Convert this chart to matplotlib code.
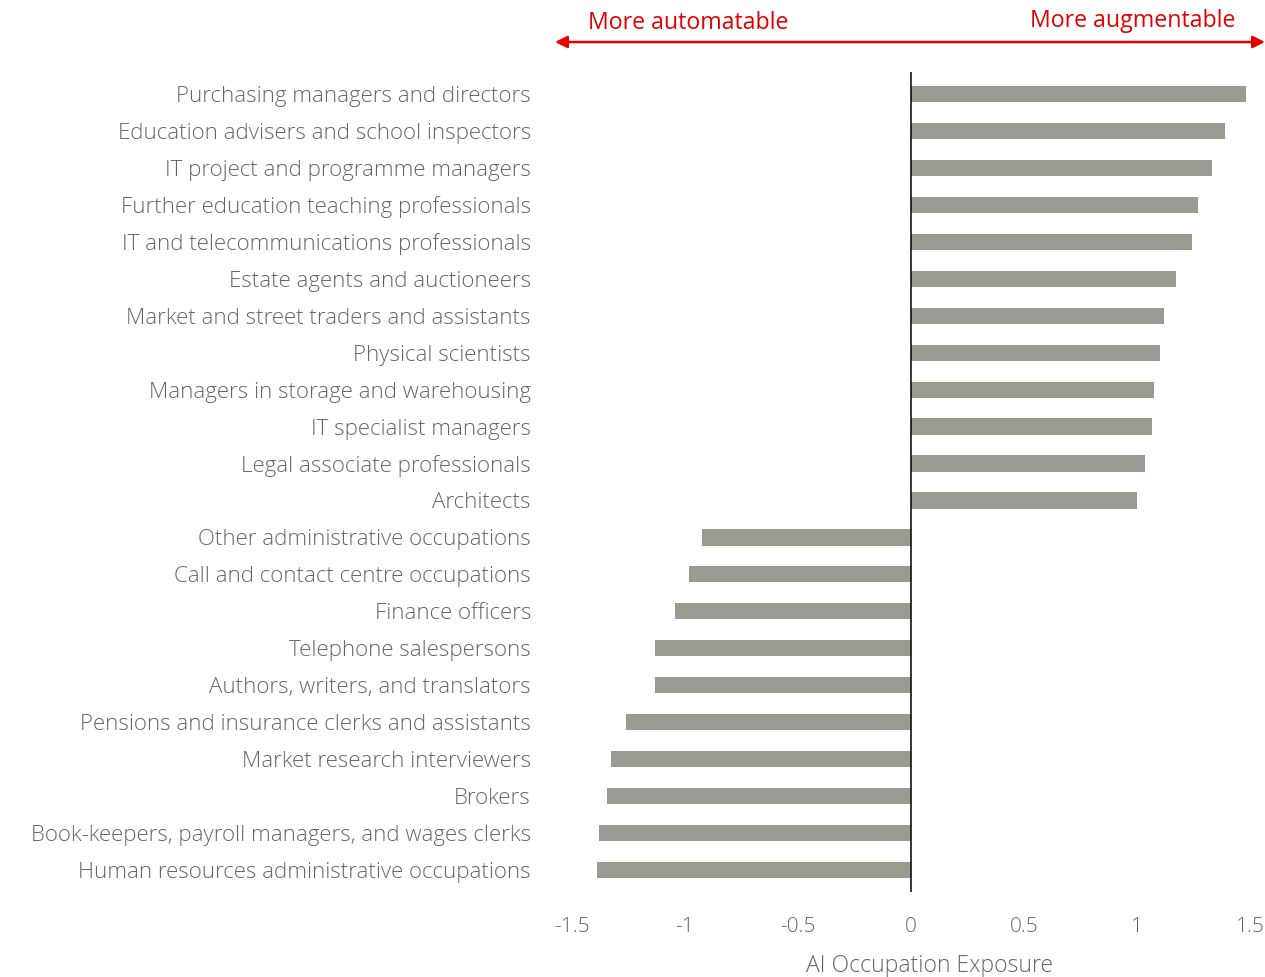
import matplotlib
matplotlib.use("Agg")
import matplotlib.pyplot as plt

occupations = [
    "Purchasing managers and directors",
    "Education advisers and school inspectors",
    "IT project and programme managers",
    "Further education teaching professionals",
    "IT and telecommunications professionals",
    "Estate agents and auctioneers",
    "Market and street traders and assistants",
    "Physical scientists",
    "Managers in storage and warehousing",
    "IT specialist managers",
    "Legal associate professionals",
    "Architects",
    "Other administrative occupations",
    "Call and contact centre occupations",
    "Finance officers",
    "Telephone salespersons",
    "Authors, writers, and translators",
    "Pensions and insurance clerks and assistants",
    "Market research interviewers",
    "Brokers",
    "Book-keepers, payroll managers, and wages clerks",
    "Human resources administrative occupations",
]
exposure = [1.48, 1.39, 1.33, 1.27, 1.24, 1.17, 1.12, 1.10, 1.075, 1.065, 1.035, 1.00,
            -0.925, -0.98, -1.045, -1.13, -1.13, -1.26, -1.325, -1.345, -1.38, -1.39]
ticks = [-1.5, -1, -0.5, 0, 0.5, 1, 1.5]
tick_labels = ["-1.5", "-1", "-0.5", "0", "0.5", "1", "1.5"]

plt.rcParams["font.family"] = ["Open Sans", "DejaVu Sans"]
text_col = "#666666"
red = "#e60000"

W, H = 1265, 977
fig = plt.figure(figsize=(W / 100, H / 100), dpi=100)
ax = fig.add_axes([549 / W, (H - 892) / H, 724 / W, 820 / H])

pos = list(range(len(occupations)))
ax.barh(pos, exposure, height=0.44, color="#9a9a90")
ax.set_xlim(-1.6, 1.6)
ax.set_ylim(len(occupations) - 0.4, -0.6)

for s in ["top", "right", "bottom", "left"]:
    ax.spines[s].set_visible(False)
ax.axvline(0, color="black", lw=1.1)

ax.set_yticks(pos)
ax.set_yticklabels(occupations, fontsize=16, color=text_col, fontweight="light")
ax.tick_params(axis="y", length=0, pad=13)

ax.set_xticks(ticks)
ax.set_xticklabels(tick_labels, fontsize=15, color=text_col, fontweight="light")
ax.tick_params(axis="x", length=0, pad=18)
ax.set_xlabel("AI Occupation Exposure", fontsize=16.5, color=text_col,
              fontweight="light", labelpad=12)
ax.xaxis.label.set_x((930 - 549) / 724)

# direction arrow
ax.annotate("", xy=(555 / W, 1 - 42 / H), xytext=(1265 / W, 1 - 42 / H),
            xycoords="figure fraction", textcoords="figure fraction",
            arrowprops=dict(arrowstyle="<|-|>", color=red, lw=1.8,
                            mutation_scale=18, shrinkA=0, shrinkB=0))
fig.text(588 / W, 1 - 23 / H, "More automatable", color=red, fontsize=16.7,
         ha="left", va="center")
fig.text(1235 / W, 1 - 21 / H, "More augmentable", color=red, fontsize=16.7,
         ha="right", va="center")

fig.savefig("out.png", dpi=100)
